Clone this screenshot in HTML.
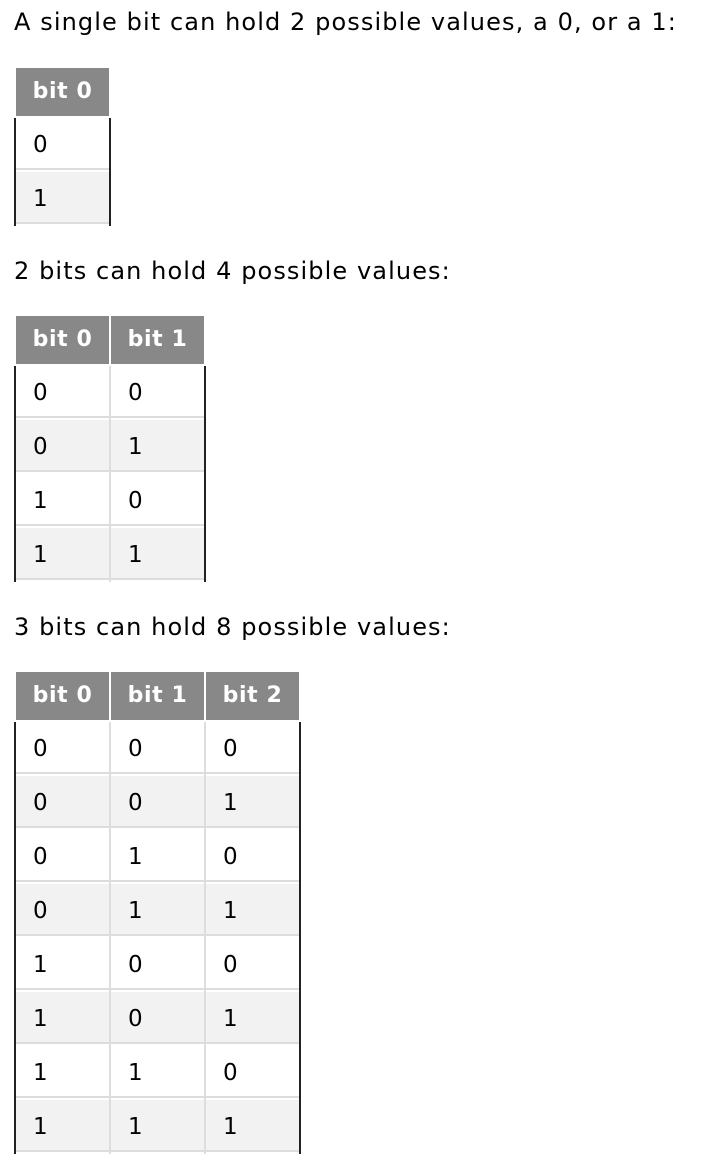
<!DOCTYPE html>
<html><head><meta charset="utf-8"><style>
body{margin:0;width:706px;height:1172px;background:#fff;position:relative;overflow:hidden;font-family:"DejaVu Sans","Liberation Sans",sans-serif;}
.p{position:absolute;left:14px;font-size:24px;letter-spacing:1.1px;color:#000;white-space:nowrap;line-height:26px;}
.h{position:absolute;background:#888;color:#fff;font-weight:bold;font-size:22px;letter-spacing:0.6px;height:48px;line-height:48px;text-align:center;}
.c{position:absolute;height:52px;line-height:54px;font-size:23px;color:#000;padding-left:18px;box-sizing:border-box;border-bottom:2px solid #ddd;}
.b{position:absolute;width:2px;background:#222;}
.v{position:absolute;width:2px;background:#ddd;}
</style></head><body>
<div class="p" style="top:9px">A single bit can hold 2 possible values, a 0, or a 1:</div>
<div class="p" style="top:258px">2 bits can hold 4 possible values:</div>
<div class="p" style="top:614px">3 bits can hold 8 possible values:</div>
<div id="t"></div>
<script>
var out='';
function table(top,ncol,rows){
  var xs=[16,111,206],w=93;
  for(var j=0;j<ncol;j++){out+='<div class="h" style="top:'+top+'px;left:'+xs[j]+'px;width:'+w+'px">bit '+j+'</div>';}
  var y0=top+50;
  for(var i=0;i<rows.length;i++){
    var y=y0+54*i;
    for(var j=0;j<ncol;j++){
      out+='<div class="c" style="top:'+y+'px;left:'+(xs[j]-1)+'px;width:'+(w+2)+'px;background:'+(i%2?'#f2f2f2':'#fff')+'">'+rows[i][j]+'</div>';
    }
  }
  var h=54*rows.length;
  out+='<div class="b" style="left:14px;top:'+y0+'px;height:'+h+'px"></div>';
  var right=16+95*ncol-2;
  out+='<div class="b" style="left:'+right+'px;top:'+y0+'px;height:'+h+'px"></div>';
  for(var j=1;j<ncol;j++) out+='<div class="v" style="left:'+(xs[j]-2)+'px;top:'+y0+'px;height:'+h+'px"></div>';
}
table(68,1,[['0'],['1']]);
table(316,2,[['0','0'],['0','1'],['1','0'],['1','1']]);
var r=[];for(var k=0;k<8;k++)r.push([''+(k>>2&1),''+(k>>1&1),''+(k&1)]);
table(672,3,r);
document.getElementById('t').innerHTML=out;
</script>
</body></html>
